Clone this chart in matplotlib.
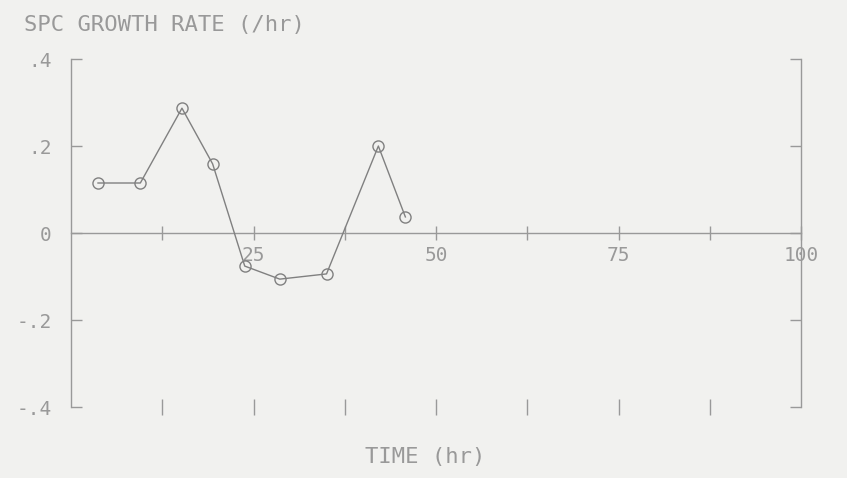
import matplotlib
matplotlib.use("Agg")
import matplotlib.pyplot as plt

time_hr = [3.7, 9.5, 15.2, 19.4, 23.8, 28.6, 35.0, 42.1, 45.8]
growth_rate = [0.115, 0.115, 0.287, 0.159, -0.076, -0.106, -0.094, 0.200, 0.037]

x_major = [25, 50, 75, 100]
x_major_labels = ["25", "50", "75", "100"]
x_minor = [12.5, 37.5, 62.5, 87.5]
x_bottom_ticks = [12.5, 25, 37.5, 50, 62.5, 75, 87.5]
y_ticks = [0.4, 0.2, 0.0, -0.2, -0.4]
y_tick_labels = [".4", ".2", "0", "-.2", "-.4"]

ink = "#999999"
line_ink = "#808080"
bg = "#f1f1ef"
mono = "DejaVu Sans Mono"

fig = plt.figure(figsize=(8.47, 4.78), dpi=100, facecolor=bg)
ax = fig.add_axes([0.0838, 0.1485, 0.862, 0.728], facecolor=bg)

ax.plot(time_hr, growth_rate, color=line_ink, lw=1.0, marker="o", ms=8,
        mfc="none", mec=line_ink, mew=1.0, zorder=3)

ax.set_xlim(0, 100)
ax.set_ylim(-0.4, 0.4)

ax.spines["top"].set_visible(False)
ax.spines["bottom"].set_position(("data", 0))
for s in ["left", "right", "bottom"]:
    ax.spines[s].set_color(ink)
    ax.spines[s].set_linewidth(1.0)

ax.set_xticks(x_major)
ax.set_xticklabels(x_major_labels, family=mono, fontsize=14, color=ink)
ax.set_xticks(x_minor, minor=True)
ax.tick_params(axis="x", which="both", direction="inout", length=10,
               color=ink, width=1.0, pad=4)

ax.set_yticks(y_ticks)
ax.set_yticklabels(y_tick_labels, family=mono, fontsize=14, color=ink)
ax.tick_params(axis="y", which="both", direction="in", length=8, color=ink,
               width=1.0, left=True, right=True, labelleft=True, pad=14)

secax = ax.secondary_xaxis(0.0)
secax.spines["bottom"].set_visible(False)
secax.set_xticks(x_bottom_ticks)
secax.set_xticklabels([])
secax.tick_params(axis="x", direction="inout", length=11, color=ink, width=1.0)

fig.text(0.028, 0.968, "SPC GROWTH RATE (/hr)", family=mono, fontsize=16,
         color=ink, va="top", ha="left")
fig.text(0.502, 0.022, "TIME (hr)", family=mono, fontsize=16, color=ink,
         va="bottom", ha="center")

fig.savefig("out.png", dpi=100, facecolor=bg)
